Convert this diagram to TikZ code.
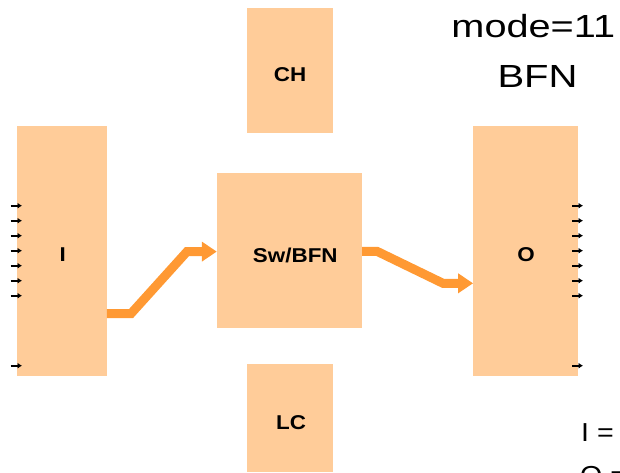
\documentclass[tikz,border=0pt]{standalone}
\usepackage{fontspec}
\setmainfont{Liberation Sans}
\usetikzlibrary{arrows.meta}
\definecolor{boxfill}{HTML}{FFCC99}
\definecolor{flow}{HTML}{FF9933}

% wide-set text, as the labels are printed a little stretched
\newcommand{\wide}[2][1.12]{\scalebox{#1}[1]{#2}}

\begin{document}
\begin{tikzpicture}[x=1pt,y=-1pt,
  blk/.style={fill=boxfill,draw=none,inner sep=0pt},
  lbl/.style={font=\fontsize{20}{20}\selectfont\bfseries,inner sep=0pt,anchor=base},
  note/.style={font=\fontsize{32}{32}\selectfont,inner sep=0pt,anchor=base},
  legend/.style={font=\fontsize{26}{26}\selectfont,inner sep=0pt,anchor=base west},
  pin/.style={line width=1.7pt,-{Latex[length=4.5pt,width=6pt]}},
  flowarrow/.style={draw=flow,line width=9pt,-{Triangle[length=15pt,width=19pt]}},
]
\useasboundingbox (0,0) rectangle (620,472);
\clip (0,0) rectangle (620,472);

% blocks
\node[blk,minimum width=89.4pt,minimum height=250pt] (I)  at (62,251)      {};
\node[blk,minimum width=85.4pt,minimum height=125pt] (CH) at (290,70.5)    {};
\node[blk,minimum width=145pt, minimum height=155.3pt] (SW) at (289.5,250.65) {};
\node[blk,minimum width=85.4pt,minimum height=108pt] (LC) at (290,418)     {};
\node[blk,minimum width=104.4pt,minimum height=250pt] (O) at (525.5,251)   {};

% block labels
\node[lbl] (Itxt)  at (62.7,261.5) {\wide{I}};
\node[lbl] (CHtxt) at (290,81.5)   {\wide{CH}};
\node[lbl] (SWtxt) at (295.3,262)  {\wide{Sw/BFN}};
\node[lbl] (Otxt)  at (526,261.5)  {\wide{O}};
\node[lbl] (LCtxt) at (291,429)    {\wide{LC}};

% mode caption
\node[note] (mode) at (533.3,37.3) {\wide[1.24]{mode=11}};
\node[note] (bfn)  at (537.5,87)   {\wide[1.25]{BFN}};

% legend, running off the right edge
\node[legend] (legI) at (581,441.7) {\wide[1.1]{I = }};
\node[legend] (legO) at (580,484.5) {\wide[1.1]{O = }};

% input pins on I, output pins on O
\foreach \y in {205.7,220.7,235.7,250.7,265.7,280.7,295.7,365.7}{
  \coordinate (pi) at (10.7,\y);
  \draw[pin] (pi) -- ++(11.3,0);
  \coordinate (po) at (572,\y);
  \draw[pin] (po) -- ++(11,0);
}

% data flow I -> Sw/BFN -> O
\draw[flowarrow] (I.east |- 0,313.6) -- (131,313.6) -- (187,251.6) -- (SW.west |- 0,251.6);
\draw[flowarrow] (SW.east |- 0,251.3) -- (377,251.3) -- (443,283.3) -- (O.west |- 0,283.3);
\end{tikzpicture}
\end{document}
